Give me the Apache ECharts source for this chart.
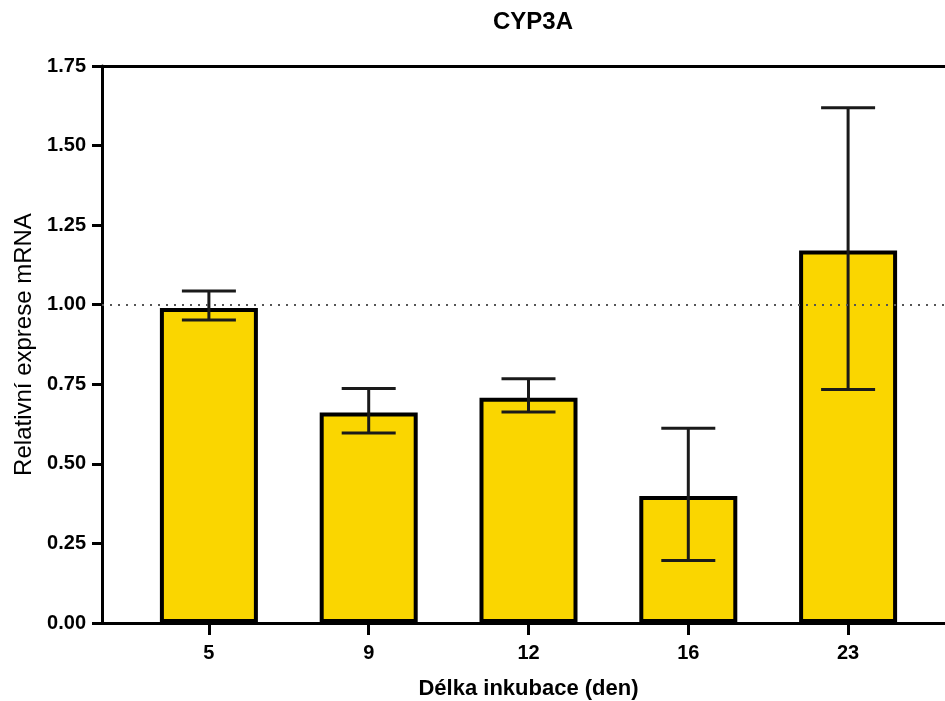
<!DOCTYPE html>
<html>
<head>
<meta charset="utf-8">
<script src="https://cdn.jsdelivr.net/npm/echarts@6/dist/echarts.min.js"></script>
<style>html,body{margin:0;padding:0;background:#fff;}#c{width:945px;height:701px;}</style>
</head>
<body>
<div id="c"></div>
<script>
const categories = ['5', '9', '12', '16', '23'];
const means = [0.99, 0.661, 0.708, 0.399, 1.170];
const errLow = [0.952, 0.597, 0.663, 0.196, 0.734];
const errHigh = [1.043, 0.737, 0.767, 0.612, 1.619];
const yTicks = [0, 0.25, 0.5, 0.75, 1.0, 1.25, 1.5, 1.75];
const refLine = 1.0;

const FONT = '"Liberation Sans", Arial, sans-serif';
const chart = echarts.init(document.getElementById('c'), null, {renderer: 'canvas'});

const errData = categories.map((c, i) => [i, errLow[i], errHigh[i]]);

chart.setOption({
  backgroundColor: '#ffffff',
  animation: false,
  title: {
    text: 'CYP3A',
    left: 528,
    top: 5,
    textAlign: 'center',
    textStyle: {fontFamily: FONT, fontWeight: 'bold', fontSize: 24, color: '#000'}
  },
  grid: [
    {left: 129, width: 799, top: 66, bottom: 78, containLabel: false, outerBoundsMode: 'none'},
    {left: 102, right: 0, top: 66, bottom: 78, containLabel: false, outerBoundsMode: 'none'}
  ],
  xAxis: [
    {
      gridIndex: 0, type: 'category', data: categories,
      axisLine: {show: false},
      axisTick: {show: true, alignWithLabel: true, length: 12, lineStyle: {color: '#000', width: 3}},
      axisLabel: {margin: 20, fontFamily: FONT, fontWeight: 'bold', fontSize: 20, color: '#000'},
      name: 'Délka inkubace (den)', nameLocation: 'middle', nameGap: 55,
      nameTextStyle: {fontFamily: FONT, fontWeight: 'bold', fontSize: 22, color: '#000'},
      splitLine: {show: false}
    },
    {
      gridIndex: 1, type: 'value', min: 0, max: 1, position: 'bottom',
      axisLine: {show: true, lineStyle: {color: '#000', width: 3}},
      axisTick: {show: false}, axisLabel: {show: false}, splitLine: {show: false}
    },
    {
      gridIndex: 1, type: 'value', min: 0, max: 1, position: 'top',
      axisLine: {show: true, lineStyle: {color: '#000', width: 3}},
      axisTick: {show: false}, axisLabel: {show: false}, splitLine: {show: false}
    }
  ],
  yAxis: [
    {
      gridIndex: 0, type: 'value', min: 0, max: 1.75, interval: 0.25, offset: 27,
      axisLine: {show: true, lineStyle: {color: '#000', width: 3}},
      axisTick: {show: true, length: 10, lineStyle: {color: '#000', width: 3}},
      axisLabel: {margin: 16, fontFamily: FONT, fontWeight: 'bold', fontSize: 20, color: '#000',
        formatter: v => v.toFixed(2)},
      splitLine: {show: false},
      name: 'Relativní exprese mRNA', nameLocation: 'middle', nameGap: 66,
      nameTextStyle: {fontFamily: FONT, fontSize: 24, color: '#000'}
    },
    {
      gridIndex: 1, type: 'value', min: 0, max: 1.75, show: false
    }
  ],
  series: [
    {
      type: 'line', xAxisIndex: 1, yAxisIndex: 1, data: [], z: 1,
      markLine: {
        silent: true, symbol: 'none', label: {show: false},
        lineStyle: {type: [2, 6], color: '#555', width: 2},
        data: [{yAxis: refLine}]
      }
    },
    {
      type: 'bar', xAxisIndex: 0, yAxisIndex: 0, data: means, z: 3,
      barWidth: 98,
      itemStyle: {color: '#FAD600', borderColor: '#000', borderWidth: 4}
    },
    {
      type: 'custom', xAxisIndex: 0, yAxisIndex: 0, data: errData, z: 4,
      renderItem: function (params, api) {
        const x = api.value(0);
        const lo = api.coord([x, api.value(1)]);
        const hi = api.coord([x, api.value(2)]);
        const hw = 27;
        const st = {stroke: '#1a1a1a', lineWidth: 3};
        return {
          type: 'group',
          children: [
            {type: 'line', shape: {x1: lo[0], y1: lo[1], x2: hi[0], y2: hi[1]}, style: st},
            {type: 'line', shape: {x1: lo[0] - hw, y1: lo[1], x2: lo[0] + hw, y2: lo[1]}, style: st},
            {type: 'line', shape: {x1: hi[0] - hw, y1: hi[1], x2: hi[0] + hw, y2: hi[1]}, style: st}
          ]
        };
      }
    }
  ]
});
</script>
</body>
</html>
